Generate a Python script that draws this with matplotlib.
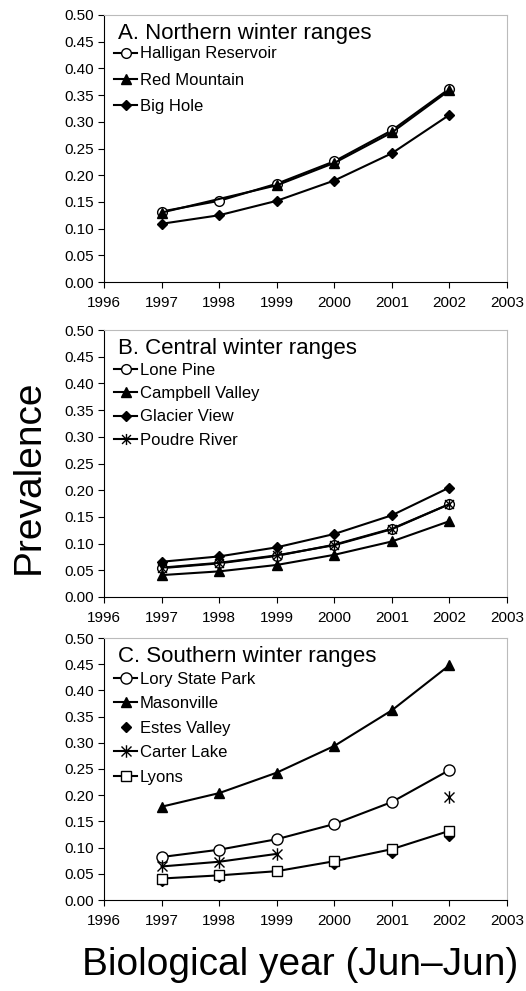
import numpy as np
import matplotlib
matplotlib.use("Agg")
import matplotlib.pyplot as plt
from matplotlib.path import Path

plt.rcParams['font.family'] = ['Liberation Sans', 'DejaVu Sans']

years = [1997, 1998, 1999, 2000, 2001, 2002]

# Panel A
halligan = [0.132, 0.152, 0.184, 0.226, 0.284, 0.362]
red_mountain_years = [1997, 1999, 2000, 2001, 2002]
red_mountain = [0.130, 0.181, 0.223, 0.280, 0.359]
big_hole = [0.109, 0.125, 0.152, 0.190, 0.241, 0.313]

# Panel B
lone_pine = [0.054, 0.063, 0.077, 0.098, 0.128, 0.174]
campbell_valley = [0.041, 0.048, 0.060, 0.079, 0.104, 0.142]
glacier_view = [0.066, 0.076, 0.093, 0.118, 0.153, 0.205]
poudre_river = [0.055, 0.064, 0.078, 0.097, 0.127, 0.174]

# Panel C
lory = [0.082, 0.096, 0.116, 0.145, 0.187, 0.248]
masonville = [0.178, 0.204, 0.243, 0.294, 0.362, 0.448]
estes_years = [1997, 1998, 2000, 2001, 2002]
estes = [0.036, 0.043, 0.069, 0.089, 0.123]
carter = [0.064, 0.073, 0.088, np.nan, np.nan, 0.197]
lyons = [0.041, 0.047, 0.055, 0.074, 0.097, 0.132]

xticks = [1996, 1997, 1998, 1999, 2000, 2001, 2002, 2003]
yticks = [0.0, 0.05, 0.10, 0.15, 0.20, 0.25, 0.30, 0.35, 0.40, 0.45, 0.50]

# Excel-style asterisk marker: X plus a vertical bar
ast = Path([(-0.8, -0.8), (0.8, 0.8), (-0.8, 0.8), (0.8, -0.8), (0, -1), (0, 1)],
           [Path.MOVETO, Path.LINETO, Path.MOVETO, Path.LINETO, Path.MOVETO, Path.LINETO])

fig = plt.figure(figsize=(5.26, 9.91), dpi=100)
W, H = 526, 991
def ax_at(left, right, top, bottom):
    return fig.add_axes([left / W, 1 - bottom / H, (right - left) / W, (bottom - top) / H])

axA = ax_at(104, 507, 15, 282)
axB = ax_at(104, 507, 330, 597)
axC = ax_at(104, 507, 638, 900)

lw = 1.5
common = dict(color='black', lw=lw)

def style(ax, title):
    ax.set_xlim(1996, 2003)
    ax.set_ylim(0, 0.5)
    ax.set_xticks(xticks)
    ax.set_yticks(yticks)
    ax.set_yticklabels([f"{v:.2f}" for v in yticks])
    ax.tick_params(labelsize=11, direction='out', length=4, width=0.8)
    ax.tick_params(axis='x', pad=6)
    for s in ['left', 'bottom']:
        ax.spines[s].set_color('black')
        ax.spines[s].set_linewidth(0.8)
    for s in ['top', 'right']:
        ax.spines[s].set_color('#bbbbbb')
        ax.spines[s].set_linewidth(0.8)
    ax.text(0.035, 0.97, title, transform=ax.transAxes, fontsize=16, va='top', ha='left')

# A
axA.plot(years, halligan, marker='o', mfc='white', mec='black', ms=7, label='Halligan Reservoir', **common)
axA.plot(red_mountain_years, red_mountain, marker='^', mfc='black', mec='black', ms=6.5, label='Red Mountain', **common)
axA.plot(years, big_hole, marker='D', mfc='black', mec='black', ms=5, label='Big Hole', **common)
style(axA, 'A. Northern winter ranges')

# B
axB.plot(years, lone_pine, marker='o', mfc='white', mec='black', ms=7, label='Lone Pine', **common)
axB.plot(years, campbell_valley, marker='^', mfc='black', mec='black', ms=6.5, label='Campbell Valley', **common)
axB.plot(years, glacier_view, marker='D', mfc='black', mec='black', ms=5, label='Glacier View', **common)
axB.plot(years, poudre_river, marker=ast, mec='black', ms=8, mew=1, label='Poudre River', **common)
style(axB, 'B. Central winter ranges')

# C
axC.plot(years, lory, marker='o', mfc='white', mec='black', ms=8, label='Lory State Park', **common)
axC.plot(years, masonville, marker='^', mfc='black', mec='black', ms=7, label='Masonville', **common)
axC.plot(estes_years, estes, marker='D', mfc='black', mec='black', ms=5, ls='none', label='Estes Valley')
axC.plot(years, carter, marker=ast, mec='black', ms=9, mew=1, label='Carter Lake', **common)
axC.plot(years, lyons, marker='s', mfc='white', mec='black', ms=7, label='Lyons', **common)
style(axC, 'C. Southern winter ranges')

for ax, anchor, spacing in ((axA, 0.92, 0.68), (axB, 0.915, 0.5), (axC, 0.91, 0.57)):
    ax.legend(loc='upper left', bbox_to_anchor=(0.0, anchor), frameon=False, fontsize=12,
              handlelength=1.4, handletextpad=0.15, labelspacing=spacing, borderaxespad=0.2)

fig.text(29 / W, 1 - 477 / H, 'Prevalence', rotation=90, fontsize=28, ha='center', va='center')
fig.text(300 / W, 1 - 965 / H, 'Biological year (Jun\u2013Jun)', fontsize=28, ha='center', va='center')

fig.savefig('out.png', dpi=100)
